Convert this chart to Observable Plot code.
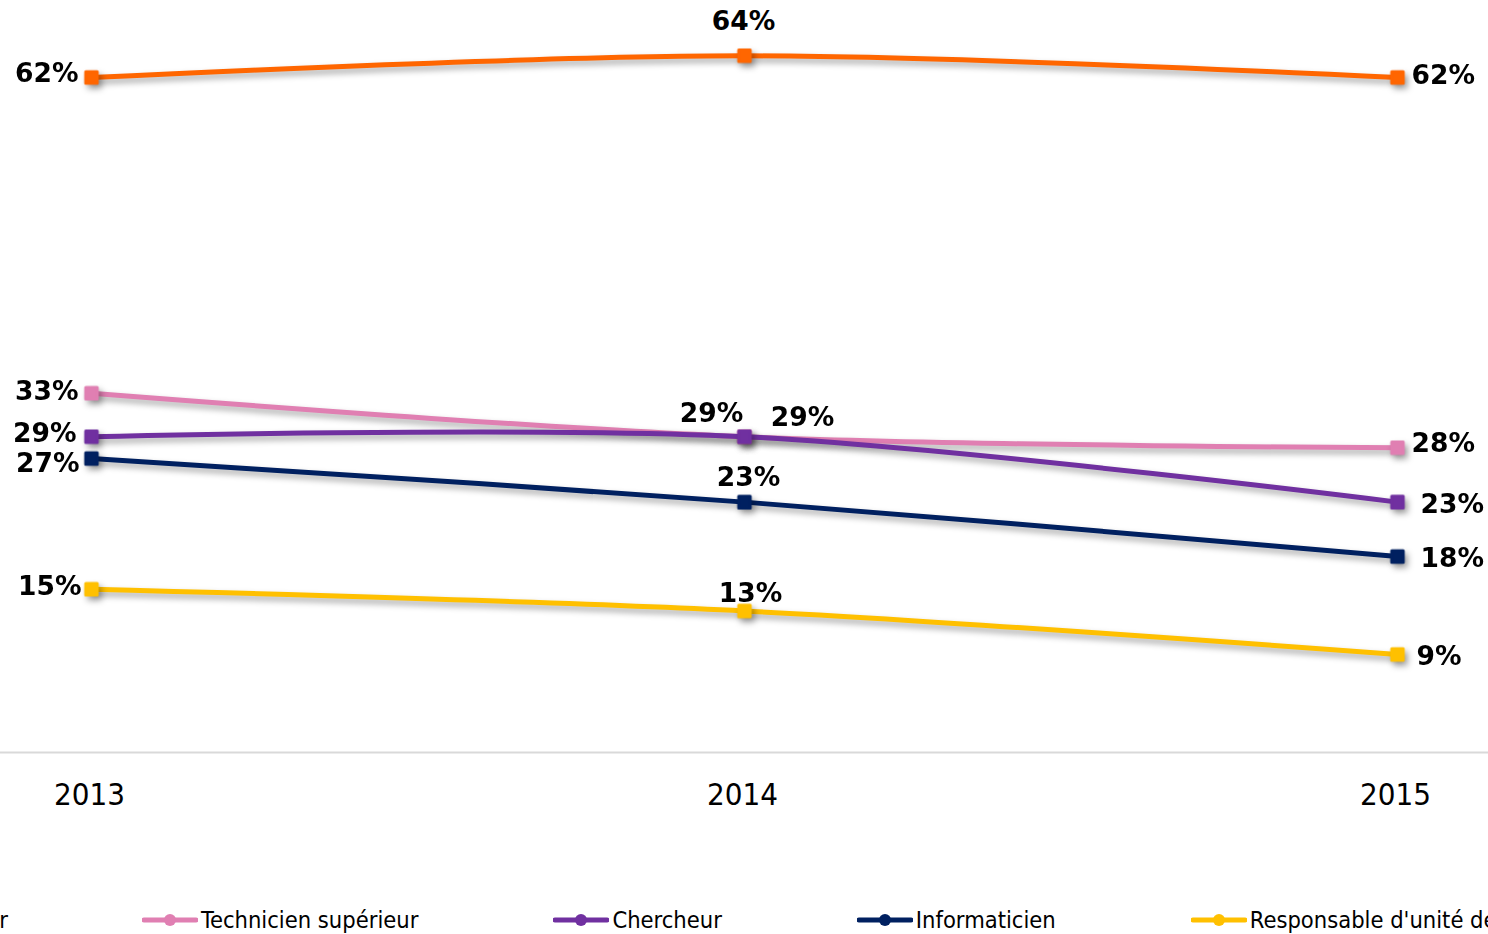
<!DOCTYPE html>
<html><head><meta charset="utf-8">
<script src="https://cdn.jsdelivr.net/npm/d3@7"></script>
<script src="https://cdn.jsdelivr.net/npm/@observablehq/plot@0.6"></script>
<style>
body{margin:0;background:#fff;width:1488px;height:934px;overflow:hidden;position:relative;}
#chart{position:absolute;left:0;top:0;}
#legend{position:absolute;left:0;top:905px;width:1488px;height:30px;overflow:hidden;font-family:"DejaVu Sans Condensed","DejaVu Sans",sans-serif;font-size:23.5px;color:#000;}
.row{position:absolute;top:0;left:142px;display:flex;gap:135px;height:30px;align-items:center;white-space:nowrap;}
.item{display:flex;align-items:center;white-space:nowrap;height:30px;}
.item span{margin-left:3px;}
.first{position:absolute;top:0;right:1480px;}
</style>
</head><body>
<div id="chart"></div>
<div id="legend"></div>
<script>
const years = ["2013", "2014", "2015"];
const series = ["Ingénieur", "Technicien supérieur", "Chercheur", "Informaticien", "Responsable d'unité de recherche"];
const ingenieur = [62, 64, 62];
const technicien = [33, 29, 28];
const chercheur = [29, 29, 23];
const informaticien = [27, 23, 18];
const responsable = [15, 13, 9];
const values = [ingenieur, technicien, chercheur, informaticien, responsable];

// styles / layout
const colors = ["#FF6600", "#E07FB2", "#7030A0", "#002060", "#FFC000"];
const labelLayout = [
  [[-13, -4, "end"], [-1, -34, "middle"], [14, -2, "start"]],
  [[-13, -2, "end"], [-33, -23, "middle"], [14, -4, "start"]],
  [[-15, -3, "end"], [58, -19, "middle"], [23, 2, "start"]],
  [[-12, 5, "end"], [4, -25, "middle"], [23, 2, "start"]],
  [[-10, -3, "end"], [6, -17, "middle"], [19, 2, "start"]]
];

const data = series.flatMap((s, i) => years.map((yr, j) => ({series: s, year: yr, value: values[i][j] / 100, si: i, yj: j})));

const marks = [
  Plot.ruleY([0], {stroke: "#d9d9d9", strokeWidth: 2}),
  Plot.axisX({tickSize: 0, tickPadding: 30, fontSize: 31, fontFamily: "DejaVu Sans Condensed", label: null, fill: "#000", dx: -2})
];
series.forEach((s, i) => {
  const d = data.filter(r => r.si === i);
  marks.push(Plot.line(d, {x: "year", y: "value", stroke: colors[i], strokeWidth: 5, curve: "catmull-rom"}));
  marks.push(Plot.dot(d, {x: "year", y: "value", symbol: "square", r: 6.5, fill: colors[i], stroke: colors[i], strokeWidth: 3, strokeLinejoin: "round"}));
});
data.forEach(r => {
  const [dx, dy, anchor] = labelLayout[r.si][r.yj];
  marks.push(Plot.text([r], {x: "year", y: "value", text: d => Math.round(d.value * 100) + "%", dx, dy, textAnchor: anchor,
    fontSize: 26.5, fontWeight: "bold", fontFamily: "DejaVu Sans", fill: "#000"}));
});

const chart = Plot.plot({
  width: 1488, height: 880,
  marginLeft: 0, marginRight: 0, marginTop: 0, marginBottom: 128,
  x: {type: "point", domain: years, range: [90, 1397], padding: 0, label: null},
  y: {domain: [0, 0.7], range: [752, -10], axis: null},
  style: {background: "#fff", overflow: "visible"},
  marks
});
document.getElementById("chart").appendChild(chart);
d3.select(chart).selectAll("g[aria-label='line'], g[aria-label='dot']")
  .style("filter", "drop-shadow(3px 4px 3px rgba(0,0,0,0.35))");

// legend
const legend = d3.select("#legend");
function addItem(parent, i) {
  const it = parent.append("div").attr("class", "item");
  const sw = it.append("svg").attr("width", 56).attr("height", 16);
  sw.append("line").attr("x1", 2).attr("x2", 54).attr("y1", 8).attr("y2", 8)
    .attr("stroke", colors[i]).attr("stroke-width", 5).attr("stroke-linecap", "round");
  sw.append("circle").attr("cx", 28).attr("cy", 8).attr("r", 6).attr("fill", colors[i]);
  it.append("span").text(series[i]);
  return it;
}
addItem(legend, 0).classed("first", true);
const row = legend.append("div").attr("class", "row");
for (let i = 1; i < series.length; i++) addItem(row, i);
</script>
</body></html>
